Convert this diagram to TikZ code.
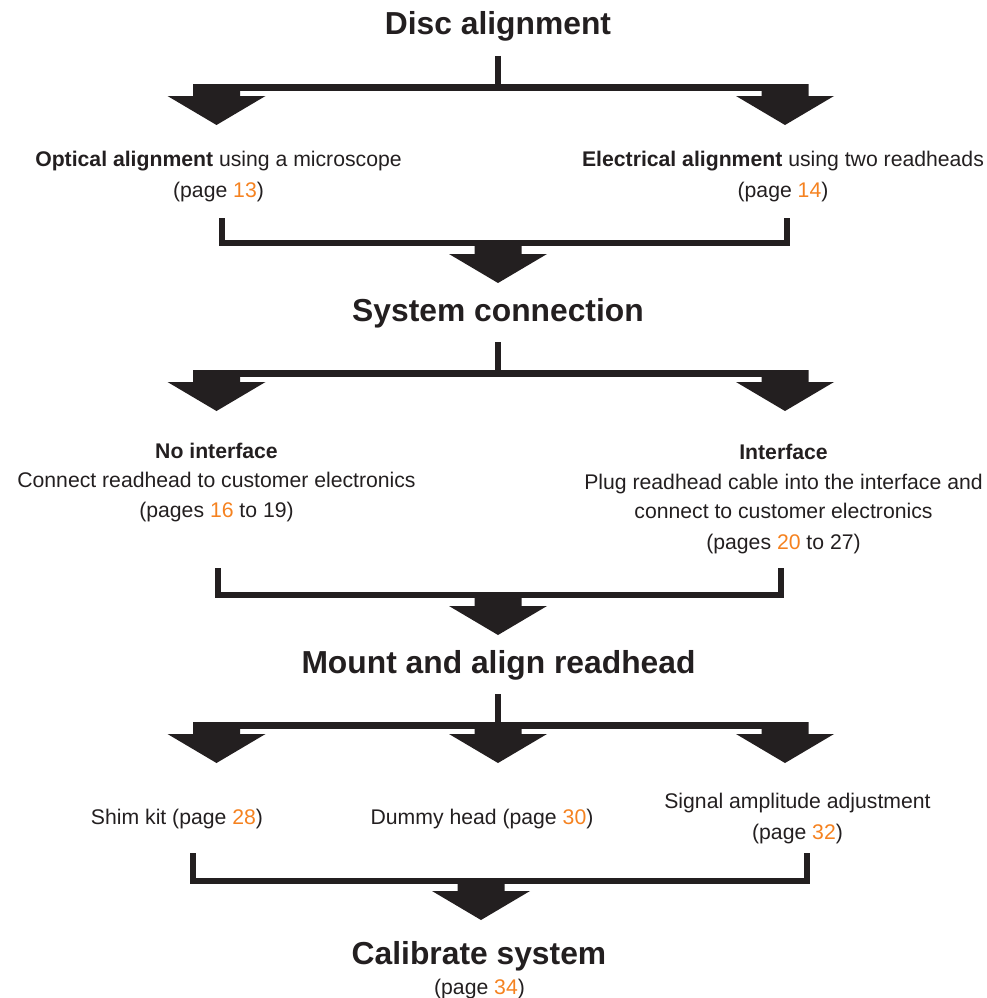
\documentclass[tikz,border=0pt]{standalone}
\usepackage{fontspec}
\setmainfont{Liberation Sans}
\usetikzlibrary{positioning}

\definecolor{ink}{RGB}{35,31,32}
\definecolor{pageorange}{RGB}{245,130,32}
\newcommand{\pg}[1]{\textcolor{pageorange}{#1}}
% thick block arrow: centre x, top of stem, tip
\newcommand{\fatarrow}[3]{%
  \fill[ink] (#1-23.5,#2) -- (#1+23.5,#2) -- (#1+23.5,#3-29) -- (#1+49,#3-29)
    -- (#1,#3) -- (#1-49,#3-29) -- (#1-23.5,#3-29) -- cycle;}

\begin{document}
\begin{tikzpicture}[x=1pt, y=-1pt,
    title/.style={font=\fontsize{31.8}{36}\selectfont\bfseries, text=ink, anchor=base, inner sep=0},
    body/.style={font=\fontsize{21.2}{30}\selectfont, text=ink, anchor=base, inner sep=0},
    stem/.style={draw=ink, line width=5.5},
    bracket/.style={draw=ink, line width=6}]
        \useasboundingbox (0,0) rectangle (987,998);

        % disc alignment
        \node[title] (disc) at (498,35) {Disc alignment};
        \coordinate (split1) at (498,56);
        \draw[stem] (split1) -- ++(0,30);
        \fill[ink] (193,84) rectangle (808,91);
        \fatarrow{216.5}{84}{125}
        \fatarrow{785}{84}{125}

        \node[body] (optical) at (218.5,166) {\textbf{Optical alignment} using a microscope};
        \node[body] (opticalpg) at (218.5,197) {(page \pg{13})};
        \node[body] (electric) at (783,166) {\textbf{Electrical alignment} using two readheads};
        \node[body] (electricpg) at (783,197) {(page \pg{14})};

        \coordinate (join1l) at (221.5,218);
        \coordinate (join1r) at (787,218);
        \draw[bracket] (join1l) |- (498,243) -| (join1r);
        \fatarrow{498}{246}{283}

        % system connection
        \node[title] (system) at (498,321) {System connection};
        \coordinate (split2) at (498,342);
        \draw[stem] (split2) -- ++(0,30);
        \fill[ink] (193,370) rectangle (808,377);
        \fatarrow{216.5}{370}{411}
        \fatarrow{785}{370}{411}

        \node[body] (noif) at (216.5,458) {\textbf{No interface}};
        \node[body] (noif2) at (216.5,487) {Connect readhead to customer electronics};
        \node[body] (noifpg) at (216.5,517) {(pages \pg{16} to 19)};
        \node[body] (iface) at (783.5,459) {\textbf{Interface}};
        \node[body] (iface2) at (783.5,489) {Plug readhead cable into the interface and};
        \node[body] (iface3) at (783.5,518) {connect to customer electronics};
        \node[body] (ifacepg) at (783.5,549) {(pages \pg{20} to 27)};

        \coordinate (join2l) at (217.5,568);
        \coordinate (join2r) at (780.5,568);
        \draw[bracket] (join2l) |- (498,595) -| (join2r);
        \fatarrow{498}{598}{635}

        % mount and align
        \node[title] (mount) at (498.5,673) {Mount and align readhead};
        \coordinate (split3) at (498,694);
        \draw[stem] (split3) -- ++(0,30);
        \fill[ink] (193,722) rectangle (808,729);
        \fatarrow{216.5}{722}{763}
        \fatarrow{498}{722}{763}
        \fatarrow{785}{722}{763}

        \node[body] (shim) at (177,824) {Shim kit (page \pg{28})};
        \node[body] (dummy) at (482,824) {Dummy head (page \pg{30})};
        \node[body] (signal) at (797.5,808) {Signal amplitude adjustment};
        \node[body] (signalpg) at (797.5,839) {(page \pg{32})};

        \coordinate (join3l) at (193,853);
        \coordinate (join3r) at (806.5,853);
        \draw[bracket] (join3l) |- (481,881) -| (join3r);
        \fatarrow{481}{884}{920}

        % calibrate
        \node[title] (calib) at (479,964) {Calibrate system};
        \node[body] (calibpg) at (479.5,994) {(page \pg{34})};
\end{tikzpicture}
\end{document}
